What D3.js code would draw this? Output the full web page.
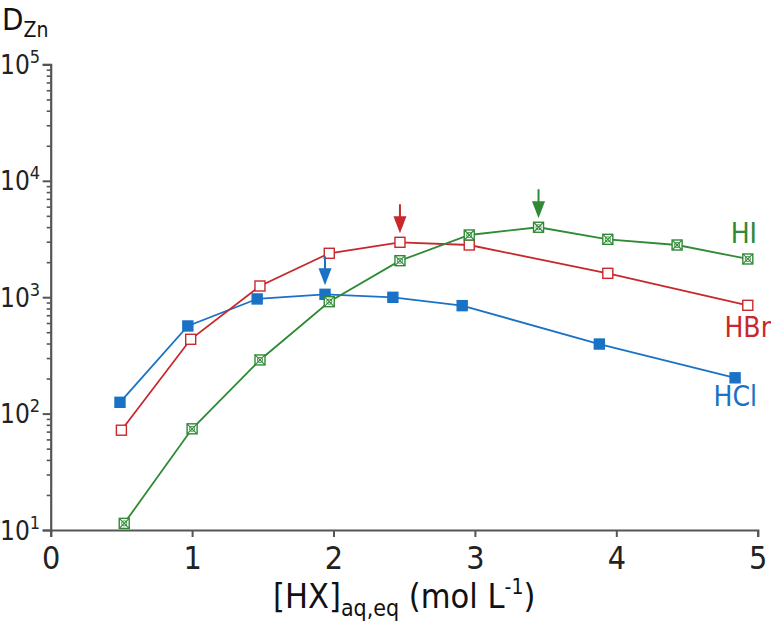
<!DOCTYPE html>
<html><head><meta charset="utf-8">
<script src="https://cdn.jsdelivr.net/npm/d3@7"></script>
<style>
body{margin:0;background:#fff;}
text{font-family:"Liberation Sans Narrow","Arial Narrow","DejaVu Sans Condensed",sans-serif;}
</style></head>
<body><svg id="c" width="771" height="624"></svg>
<script>
// ---- data ----
const hclX = [0.49, 0.97, 1.46, 1.94, 2.42, 2.91, 3.88, 4.84];
const hclY = [125, 566, 966, 1059, 998, 846, 396, 203];
const hbrX = [0.50, 0.99, 1.48, 1.97, 2.47, 2.96, 3.94, 4.93];
const hbrY = [72, 435, 1248, 2384, 2963, 2808, 1604, 852];
const hiX  = [0.52, 1.00, 1.48, 1.97, 2.47, 2.96, 3.45, 3.94, 4.43, 4.93];
const hiY  = [11.4, 74, 289, 915, 2059, 3423, 3990, 3143, 2808, 2130];
const xTicks = [0, 1, 2, 3, 4, 5];
const yTicks = [10, 100, 1000, 10000, 100000];
const yTickExp = ["1", "2", "3", "4", "5"];
const seriesNames = ["HCl", "HBr", "HI"];
// arrows mark the maximum of each series: [series index, point index]
const arrowMarks = [[0, 3], [1, 4], [2, 6]];

const FONT = '"Liberation Sans Narrow","Arial Narrow","DejaVu Sans Condensed",sans-serif';
const colors = ["#1a72c6", "#c8282c", "#2f8a35"];
const svg = d3.select("#c");
const x = d3.scaleLinear().domain([0, 5]).range([50.7, 757.7]);
const y = d3.scaleLog().domain([10, 100000]).range([530, 64.4]);

const series = [
  {name: seriesNames[0], pts: hclX.map((v, i) => [v, hclY[i]]), type: "filled"},
  {name: seriesNames[1], pts: hbrX.map((v, i) => [v, hbrY[i]]), type: "open"},
  {name: seriesNames[2], pts: hiX.map((v, i) => [v, hiY[i]]), type: "cross"}
];

// axes
const axisColor = "#555";
const gx = svg.append("g").attr("transform", "translate(0,530)")
  .call(d3.axisBottom(x).tickValues(xTicks).tickSize(7).tickPadding(9).tickFormat(d3.format("d")));
gx.select(".domain").attr("stroke", axisColor).attr("stroke-width", 2.2);
gx.selectAll(".tick line").attr("stroke", axisColor).attr("stroke-width", 2);
gx.selectAll(".tick text").attr("font-size", 32).attr("fill", "#222").attr("font-family", FONT);

const minors = [];
for (let e = 1; e < 5; e++) for (let m = 2; m <= 9; m++) minors.push(m * Math.pow(10, e));
const gym = svg.append("g").attr("transform", "translate(50.7,0)")
  .call(d3.axisLeft(y).tickValues(minors).tickSize(4).tickFormat(""));
gym.select(".domain").remove();
gym.selectAll(".tick line").attr("stroke", axisColor).attr("stroke-width", 1.6);

const gy = svg.append("g").attr("transform", "translate(50.7,0)")
  .call(d3.axisLeft(y).tickValues(yTicks).tickSize(8).tickFormat(""));
gy.select(".domain").attr("stroke", axisColor).attr("stroke-width", 2.2);
gy.selectAll(".tick line").attr("stroke", axisColor).attr("stroke-width", 2);
gy.selectAll(".tick").each(function(d, i) {
  const t = d3.select(this).append("text").attr("x", -50.7).attr("y", 9)
    .attr("text-anchor", "start").attr("fill", "#222").attr("font-size", 26)
    .attr("font-family", FONT);
  t.append("tspan").text("10");
  t.append("tspan").attr("font-size", 18).attr("dy", -11).text(yTickExp[i]);
});

// lines
const line = d3.line().x(d => x(d[0])).y(d => y(d[1]));
series.forEach((s, i) => {
  svg.append("path").datum(s.pts).attr("d", line).attr("fill", "none")
    .attr("stroke", colors[i]).attr("stroke-width", 1.8);
});

// markers
const ms = 10;
series.forEach((s, i) => {
  const g = svg.append("g").selectAll("g").data(s.pts).join("g")
    .attr("transform", d => `translate(${x(d[0])},${y(d[1])})`);
  g.append("rect").attr("x", -ms / 2).attr("y", -ms / 2).attr("width", ms).attr("height", ms)
    .attr("fill", s.type === "filled" ? colors[i] : "#fff")
    .attr("stroke", colors[i]).attr("stroke-width", 1.4);
  if (s.type === "cross") {
    g.append("path").attr("d", `M${-ms/2},${-ms/2}L${ms/2},${ms/2}M${ms/2},${-ms/2}L${-ms/2},${ms/2}`)
      .attr("stroke", colors[i]).attr("stroke-width", 1.1);
    g.append("circle").attr("r", 2.6).attr("fill", "none").attr("stroke", colors[i]).attr("stroke-width", 0.9);
  }
});

// arrows
arrowMarks.forEach(([si, pi]) => {
  const p = series[si].pts[pi];
  const ax = x(p[0]), tip = y(p[1]) - 9;
  const g = svg.append("g");
  g.append("line").attr("x1", ax).attr("x2", ax).attr("y1", tip - 29).attr("y2", tip - 12)
    .attr("stroke", colors[si]).attr("stroke-width", 2);
  g.append("path").attr("d", `M${ax - 6.5},${tip - 17}L${ax + 6.5},${tip - 17}L${ax},${tip}Z`)
    .attr("fill", colors[si]);
});

// series labels
const labelPos = [[757, 406], [771, 337], [757, 243]];
series.forEach((s, i) => {
  svg.append("text").attr("x", labelPos[i][0]).attr("y", labelPos[i][1])
    .attr("text-anchor", "end").attr("font-size", 28).attr("fill", colors[i]).text(s.name);
});

// axis titles
const yt = svg.append("text").attr("x", 2).attr("y", 30).attr("font-size", 31).attr("fill", "#111");
yt.append("tspan").text("D");
yt.append("tspan").attr("font-size", 21).attr("dy", 7).text("Zn");

const xt = svg.append("text").attr("x", x(2.5)).attr("y", 608).attr("text-anchor", "middle")
  .attr("font-size", 34).attr("fill", "#111");
xt.append("tspan").text("[HX]");
xt.append("tspan").attr("font-size", 23).attr("dy", 8).text("aq,eq");
xt.append("tspan").attr("dy", -8).text(" (mol L");
xt.append("tspan").attr("font-size", 21).attr("dy", -14).text("-1");
xt.append("tspan").attr("dy", 14).text(")");
</script></body></html>
